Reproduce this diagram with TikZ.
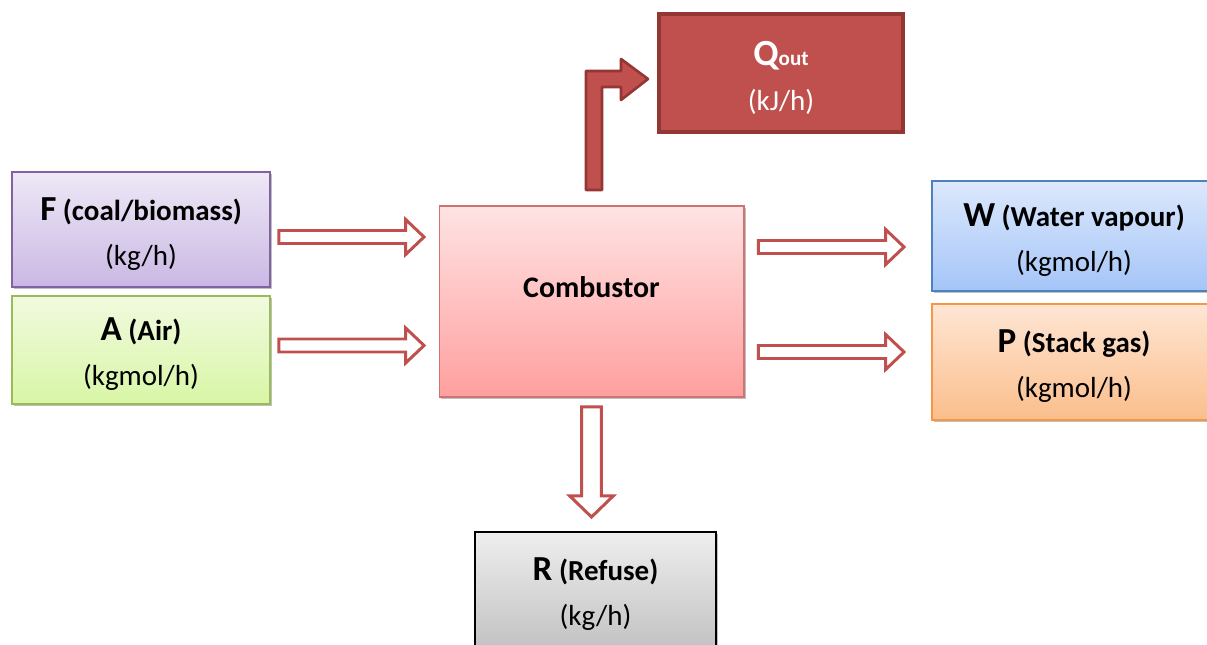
\documentclass[tikz,border=0pt]{standalone}
\usepackage{fontspec}
\setmainfont{Carlito}
\usetikzlibrary{calc,shadows}

\definecolor{arrowred}{HTML}{C0504D}
\definecolor{qdark}{HTML}{943634}
\definecolor{fborder}{HTML}{8064A2}
\definecolor{ftop}{HTML}{EEE8F6}
\definecolor{fbot}{HTML}{CAB8E4}
\definecolor{aborder}{HTML}{9BBB59}
\definecolor{atop}{HTML}{F1FADF}
\definecolor{abot}{HTML}{D8F6A6}
\definecolor{wborder}{HTML}{4F81BD}
\definecolor{wtop}{HTML}{DCE8FC}
\definecolor{wbot}{HTML}{A5C5F8}
\definecolor{pborder}{HTML}{F79646}
\definecolor{ptop}{HTML}{FEE6D4}
\definecolor{pbot}{HTML}{FBBE8C}
\definecolor{ctop}{HTML}{FFE3E3}
\definecolor{cbot}{HTML}{FF9F9F}
\definecolor{rtop}{HTML}{EEEEEE}
\definecolor{rbot}{HTML}{C3C3C3}

\newcommand{\streamname}[2]{\rule{0pt}{18pt}{\fontsize{20}{25.5}\selectfont\bfseries #1} {\bfseries (#2)}}

\tikzset{
  box/.style={draw, line width=0.8pt, inner sep=0pt, outer sep=0pt, align=center,
    font=\fontsize{16.5}{25.5}\selectfont,
    drop shadow={shadow xshift=1.2pt, shadow yshift=-1.2pt, opacity=0.25, fill=black}},
  % hollow block arrow: shaft half width / head half width / head length
  hollow/.style n args={3}{draw=arrowred, line width=1.7pt, fill=white, line join=miter,
    to path={
      ($(\tikztostart)!#1!90:(\tikztotarget)$)
      -- ($(\tikztotarget)!#3!(\tikztostart)!#1!90:(\tikztotarget)$)
      -- ($(\tikztotarget)!#3!(\tikztostart)!#2!90:(\tikztotarget)$)
      -- (\tikztotarget)
      -- ($(\tikztotarget)!#3!(\tikztostart)!#2!-90:(\tikztotarget)$)
      -- ($(\tikztotarget)!#3!(\tikztostart)!#1!-90:(\tikztotarget)$)
      -- ($(\tikztostart)!#1!-90:(\tikztotarget)$) -- cycle}},
  qarrow/.style={draw=qdark, line width=1.5pt, fill=arrowred, line join=round}
}

\begin{document}
\begin{tikzpicture}[x=0.02cm, y=-0.02cm]
  \useasboundingbox (0,0) rectangle (1207,645);
  \clip (0,0) rectangle (1207,645);

  % inputs
  \node[box, draw=fborder, top color=ftop, bottom color=fbot,
        minimum width=5.16cm, minimum height=2.3cm] (F) at (141,229.5)
        {\streamname{F}{coal/biomass}\\(kg/h)};
  \node[box, draw=aborder, top color=atop, bottom color=abot,
        minimum width=5.16cm, minimum height=2.16cm] (A) at (141,350)
        {\streamname{A}{Air}\\(kgmol/h)};

  % combustor
  \node[box, draw=arrowred!80, line width=0.6pt, top color=ctop, bottom color=cbot,
        minimum width=6.1cm, minimum height=3.82cm,
        label={[yshift=8pt, font=\fontsize{17}{20}\selectfont\bfseries]center:Combustor}] (comb) at (591.5,301.5) {};

  % heat out
  \node[box, draw=qdark, line width=2.2pt, fill=arrowred, text=white,
        minimum width=4.88cm, minimum height=2.36cm] (Q) at (781,73)
        {\rule{0pt}{19pt}{\fontsize{21}{25.5}\selectfont\bfseries Q{\fontsize{12}{14}\selectfont out}}\\(kJ/h)};

  % outputs
  \node[box, draw=wborder, top color=wtop, bottom color=wbot,
        minimum width=5.68cm, minimum height=2.2cm] (W) at (1074,236)
        {\streamname{W}{Water vapour}\\(kgmol/h)};
  \node[box, draw=pborder, top color=ptop, bottom color=pbot,
        minimum width=5.68cm, minimum height=2.32cm] (P) at (1074,362)
        {\streamname{P}{Stack gas}\\(kgmol/h)};
  \node[box, draw=black, top color=rtop, bottom color=rbot,
        minimum width=4.82cm, minimum height=2.3cm] (R) at (595.5,589.5)
        {\streamname{R}{Refuse}\\(kg/h)};

  % flows
  \draw[hollow={3.7pt}{10pt}{10.5pt}] ($(F.east)+(9,7.5)$) coordinate (f1) to ($(f1 -| comb.west)+(-15,0)$);
  \draw[hollow={3.7pt}{10pt}{10.5pt}] ($(A.east)+(9,-4.5)$) coordinate (a1) to ($(a1 -| comb.west)+(-15,0)$);
  \draw[hollow={3.7pt}{10pt}{10.5pt}] ($(comb.east)+(14.5,-54.5)$) coordinate (w1) to ($(w1 -| W.west)+(-28,0)$);
  \draw[hollow={3.7pt}{10pt}{10.5pt}] ($(comb.east)+(14.5,50.5)$) coordinate (p1) to ($(p1 -| P.west)+(-28,0)$);
  \draw[hollow={5.6pt}{12.4pt}{12pt}] ($(comb.south)+(0,10)$) coordinate (r1) to ($(r1 |- R.north)+(0,-15)$);

  % heat arrow
  \coordinate (qs) at ($(comb.north)+(2.5,-16)$);
  \coordinate (qt) at ($(Q.west)+(-11,6)$);
  \draw[qarrow] ($(qs)+(-8,0)$) |- ($(qt)+(-27,-8)$) -- ++(0,-12) -- (qt)
    -- ++(-27,21) -- ++(0,-13) -| ($(qs)+(8,0)$) -- cycle;
\end{tikzpicture}
\end{document}
